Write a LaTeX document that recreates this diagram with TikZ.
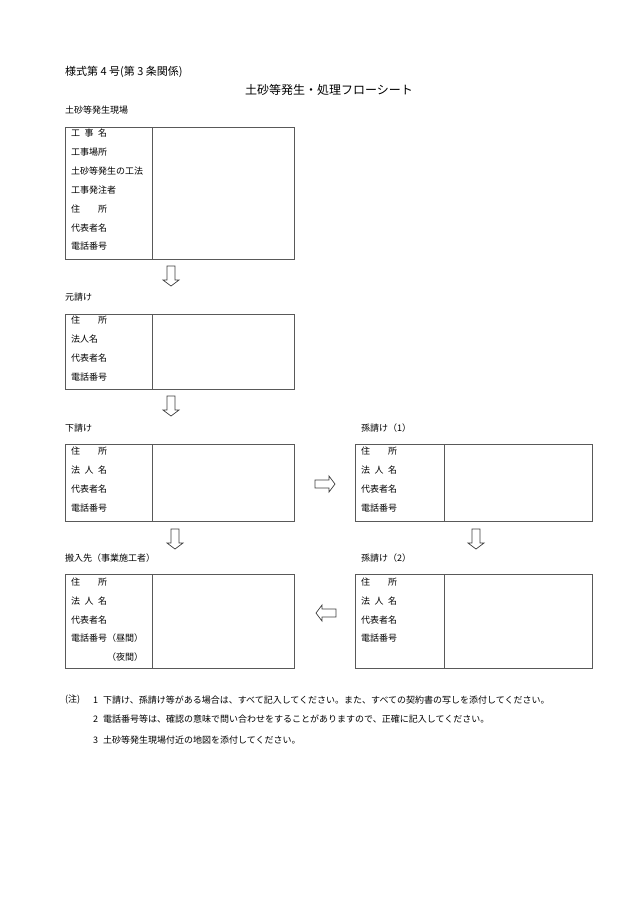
\documentclass[tikz,border=0pt]{standalone}
\usepackage{fontspec}
\setmainfont{Noto Sans CJK JP}
\begin{document}
\begin{tikzpicture}[x=1pt,y=-1pt,
  box/.style={draw=black!65, line width=0.8pt, inner sep=0pt, anchor=north west},
  div/.style={draw=black!65, line width=0.8pt},
  lbl/.style={anchor=west, inner sep=0pt, font=\fontsize{9}{9}\selectfont},
  blockarrow/.pic={\draw[draw=black!75, line width=0.7pt, fill=white] (-10,4) -- (4,4) -- (4,8) -- (10,0) -- (4,-8) -- (4,-4) -- (-10,-4) -- cycle;}
]
\useasboundingbox[fill=white] (0,0) rectangle (630,903);

% headings
\node[anchor=west, inner sep=0pt, font=\fontsize{11}{11}\selectfont] (form) at (65,72) {様式第 4 号(第 3 条関係)};
\node[anchor=center, inner sep=0pt, font=\fontsize{12}{12}\selectfont] (title) at (329,90) {土砂等発生・処理フローシート};

% box 1
\node[lbl] (h1) at (65,110) {土砂等発生現場};
\node[box, minimum width=229pt, minimum height=132pt] (b1) at (65,127) {};
\draw[div] (152,127) -- (152,259);
\node[lbl] (b1r1) at (71,133) {工\hspace{0.5em}事\hspace{0.5em}名};
\node[lbl] (b1r2) at (71,152) {工事場所};
\node[lbl] (b1r3) at (71,171) {土砂等発生の工法};
\node[lbl] (b1r4) at (71,190) {工事発注者};
\node[lbl] (b1r5) at (71,209) {住　　所};
\node[lbl] (b1r6) at (71,228) {代表者名};
\node[lbl] (b1r7) at (71,246) {電話番号};

% box 2
\node[lbl] (h2) at (65,297) {元請け};
\node[box, minimum width=229pt, minimum height=75pt] (b2) at (65,314) {};
\draw[div] (152,314) -- (152,389);
\node[lbl] (b2r1) at (71,320) {住　　所};
\node[lbl] (b2r2) at (71,339) {法人名};
\node[lbl] (b2r3) at (71,358) {代表者名};
\node[lbl] (b2r4) at (71,377) {電話番号};

% box 3
\node[lbl] (h3) at (65,428) {下請け};
\node[box, minimum width=229pt, minimum height=77pt] (b3) at (65,444) {};
\draw[div] (152,444) -- (152,521);
\node[lbl] (b3r1) at (71,451) {住　　所};
\node[lbl] (b3r2) at (71,470) {法\hspace{0.5em}人\hspace{0.5em}名};
\node[lbl] (b3r3) at (71,489) {代表者名};
\node[lbl] (b3r4) at (71,508) {電話番号};

% box 4
\node[lbl] (h4) at (361,428) {孫請け（1）};
\node[box, minimum width=237pt, minimum height=77pt] (b4) at (355,444) {};
\draw[div] (444,444) -- (444,521);
\node[lbl] (b4r1) at (361,451) {住　　所};
\node[lbl] (b4r2) at (361,470) {法\hspace{0.5em}人\hspace{0.5em}名};
\node[lbl] (b4r3) at (361,489) {代表者名};
\node[lbl] (b4r4) at (361,508) {電話番号};

% box 5
\node[lbl] (h5) at (65,558) {搬入先（事業施工者）};
\node[box, minimum width=229pt, minimum height=94pt] (b5) at (65,574) {};
\draw[div] (152,574) -- (152,668);
\node[lbl] (b5r1) at (71,582) {住　　所};
\node[lbl] (b5r2) at (71,601) {法\hspace{0.5em}人\hspace{0.5em}名};
\node[lbl] (b5r3) at (71,620) {代表者名};
\node[lbl] (b5r4) at (71,638) {電話番号（昼間）};
\node[lbl] (b5r5) at (107,657) {（夜間）};

% box 6
\node[lbl] (h6) at (361,558) {孫請け（2）};
\node[box, minimum width=237pt, minimum height=94pt] (b6) at (355,574) {};
\draw[div] (444,574) -- (444,668);
\node[lbl] (b6r1) at (361,582) {住　　所};
\node[lbl] (b6r2) at (361,601) {法\hspace{0.5em}人\hspace{0.5em}名};
\node[lbl] (b6r3) at (361,620) {代表者名};
\node[lbl] (b6r4) at (361,638) {電話番号};

% block arrows
\pic[rotate=-90] at (171,276) {blockarrow};
\pic[rotate=-90] at (171,406) {blockarrow};
\pic[rotate=-90] at (175,539) {blockarrow};
\pic[rotate=-90] at (476,539) {blockarrow};
\pic at (325,484) {blockarrow};
\pic[rotate=180] at (326,613) {blockarrow};

% notes
\node[lbl] (n0) at (65,700) {(注)};
\node[lbl] (n1) at (93,700) {1};
\node[lbl] (n1t) at (103,700) {下請け、孫請け等がある場合は、すべて記入してください。また、すべての契約書の写しを添付してください。};
\node[lbl] (n2) at (93,719) {2};
\node[lbl] (n2t) at (103,719) {電話番号等は、確認の意味で問い合わせをすることがありますので、正確に記入してください。};
\node[lbl] (n3) at (93,740) {3};
\node[lbl] (n3t) at (103,740) {土砂等発生現場付近の地図を添付してください。};
\end{tikzpicture}
\end{document}
